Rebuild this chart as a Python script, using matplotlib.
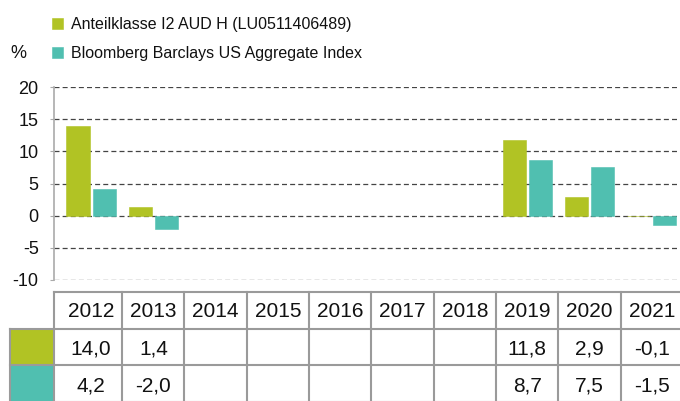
import matplotlib
matplotlib.use("Agg")
import matplotlib.pyplot as plt
import numpy as np

plt.rcParams['font.family'] = ['Liberation Sans', 'DejaVu Sans']
plt.rcParams['axes.unicode_minus'] = False

years = ['2012', '2013', '2014', '2015', '2016', '2017', '2018', '2019', '2020', '2021']
fund = [14.0, 1.4, np.nan, np.nan, np.nan, np.nan, np.nan, 11.8, 2.9, -0.1]
index = [4.2, -2.0, np.nan, np.nan, np.nan, np.nan, np.nan, 8.7, 7.5, -1.5]
labels = ['Anteilklasse I2 AUD H (LU0511406489)', 'Bloomberg Barclays US Aggregate Index']
colors = ['#b1c324', '#50bfb0']

W, H = 680, 401
fig = plt.figure(figsize=(W / 100, H / 100), dpi=100)

# main chart area in pixels
left, right, top, bottom = 54, 683, 87, 280
ax = fig.add_axes([left / W, 1 - bottom / H, (right - left) / W, (bottom - top) / H])

x = np.arange(len(years))
bw = 0.37
off = 0.209
b1 = ax.bar(x - off, fund, bw, color=colors[0], label=labels[0], edgecolor=colors[0], linewidth=0.4)
b2 = ax.bar(x + off, index, bw, color=colors[1], label=labels[1], edgecolor=colors[1], linewidth=0.4)

ax.set_xlim(-0.594, 9.5)
ax.set_ylim(-10, 20)
ax.set_yticks(np.arange(-10, 21, 5))
ax.set_xticks([])
ax.yaxis.grid(True, linestyle=(0, (4, 2.5)), color='#444444', linewidth=0.9)
ax.set_axisbelow(True)
for s in ['top', 'right', 'bottom']:
    ax.spines[s].set_visible(False)
ax.spines['left'].set_color('#aaaaaa')
ax.spines['left'].set_linewidth(1.2)
ax.tick_params(axis='y', length=3, color='#aaaaaa', labelsize=13, pad=8, labelcolor='#111111')

fig.text(10 / W, 1 - 53 / H, '%', fontsize=13, va='center', ha='left', color='#111111')

fig.legend(handles=[b1, b2], labels=labels, loc='upper left',
           bbox_to_anchor=(46 / W, 1 - 11 / H), frameon=False, fontsize=11.5,
           handlelength=0.65, handleheight=0.65, handletextpad=0.5,
           labelspacing=0.85, borderaxespad=0, labelcolor='#111111')

# table below the chart, sharing the x scale
ttop = 292
tab = fig.add_axes([left / W, (1 - ttop / H) - 110 / H, (right - left) / W, 110 / H])
tab.set_xlim(ax.get_xlim())
tab.set_ylim(3, 0)
tab.axis('off')

gc = '#9a9a9a'
lw = 1.5
x0 = ax.get_xlim()[0]
x1 = ax.get_xlim()[1]
xl = x0 - 44 / 62.9
bounds = [x0] + list(x[:-1] + 0.5) + [x1]
tab.plot([x0, x1], [0, 0], color=gc, lw=lw, clip_on=False)
for yy in [1, 2, 3]:
    tab.plot([xl, x1], [yy, yy], color=gc, lw=lw, clip_on=False)
for bx in bounds:
    tab.plot([bx, bx], [0, 3], color=gc, lw=lw, clip_on=False)
tab.plot([xl, xl], [1, 3], color=gc, lw=lw, clip_on=False)

for r, c in enumerate(colors):
    tab.fill_between([xl, x0], [r + 1] * 2, [r + 2] * 2, color=c, lw=0, clip_on=False)

def fmt(v):
    return '' if np.isnan(v) else f'{v:.1f}'.replace('.', ',')

fs = 15
for i, yr in enumerate(years):
    tab.text(i, 0.52, yr, ha='center', va='center', fontsize=fs, color='#111111')
    tab.text(i, 1.55, fmt(fund[i]), ha='center', va='center', fontsize=fs, color='#111111')
    tab.text(i, 2.55, fmt(index[i]), ha='center', va='center', fontsize=fs, color='#111111')

fig.savefig('out.png', dpi=100)
